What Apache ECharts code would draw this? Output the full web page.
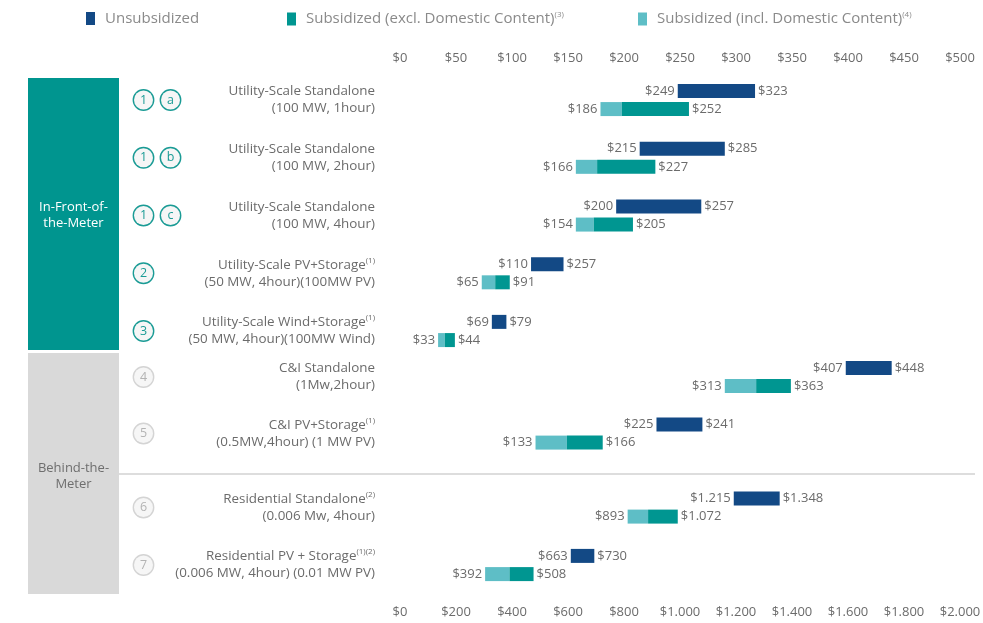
<!DOCTYPE html>
<html><head><meta charset="utf-8">
<script src="https://cdn.jsdelivr.net/npm/echarts@6/dist/echarts.min.js"></script>
<style>html,body{margin:0;padding:0;background:#fff}#c{width:983px;height:623px}</style>
</head><body><div id="c"></div>
<script>
const categories = [
  'Utility-Scale Standalone\n(100 MW, 1hour)',
  'Utility-Scale Standalone\n(100 MW, 2hour)',
  'Utility-Scale Standalone\n(100 MW, 4hour)',
  'Utility-Scale PV+Storage\n(50 MW, 4hour)(100MW PV)',
  'Utility-Scale Wind+Storage\n(50 MW, 4hour)(100MW Wind)',
  'C&I Standalone\n(1Mw,2hour)',
  'C&I PV+Storage\n(0.5MW,4hour) (1 MW PV)',
  'Residential Standalone\n(0.006 Mw, 4hour)',
  'Residential PV + Storage\n(0.006 MW, 4hour) (0.01 MW PV)'
];
const footnotes = ['', '', '', '(1)', '(1)', '', '(1)', '(2)', '(1)(2)'];
const tagNumbers = ['1', '1', '1', '2', '3', '4', '5', '6', '7'];
const tagLetters = ['a', 'b', 'c', '', '', '', '', '', ''];
const segments = ['In-Front-of-\nthe-Meter', 'Behind-the-\nMeter'];
const seriesNames = ['Unsubsidized', 'Subsidized (excl. Domestic Content)', 'Subsidized (incl. Domestic Content)'];
const seriesNotes = ['', '(3)', '(4)'];

// bar extents as drawn
const unsubLow   = [248, 214, 193, 117, 82, 398, 229, 1192, 610];
const unsubHigh  = [317, 290, 269, 146, 95, 439, 270, 1356, 694];
const subInclLow = [179, 157, 157, 73, 34, 290, 121, 813, 304];
const subExclLow = [198, 176, 173, 85, 40, 318, 149, 886, 391];
const subHigh    = [258, 228, 208, 98, 49, 349, 181, 992, 477];
// printed data labels
const unsubLowLabel  = [249, 215, 200, 110, 69, 407, 225, 1215, 663];
const unsubHighLabel = [323, 285, 257, 257, 79, 448, 241, 1348, 730];
const subLowLabel    = [186, 166, 154, 65, 33, 313, 133, 893, 392];
const subHighLabel   = [252, 227, 205, 91, 44, 363, 166, 1072, 508];

const topTicks = { min: 0, max: 500, interval: 50 };
const bottomTicks = { min: 0, max: 2000, interval: 200 };

const C_DARK = '#134985', C_TEAL = '#009691', C_LIGHT = '#5ebec6';
const TXT = '#6b6b6b';
const fmt = v => '$' + String(v).replace(/\B(?=(\d{3})+(?!\d))/g, '.');

const groups = [
  { from: 0, to: 5, top: 71.1, height: 288.75, ticks: topTicks, axis: 'top', active: true },
  { from: 5, to: 7, top: 348.75, height: 113, ticks: topTicks, axis: null, active: false },
  { from: 7, to: 9, top: 478.75, height: 115, ticks: bottomTicks, axis: 'bottom', active: false }
];

const grid = [], xAxis = [], yAxis = [], series = [];
groups.forEach((g, gi) => {
  grid.push({ left: 400, right: 23, top: g.top, height: g.height, outerBoundsMode: 'none', containLabel: false });
  xAxis.push({
    type: 'value', gridIndex: gi, min: g.ticks.min, max: g.ticks.max, interval: g.ticks.interval,
    show: !!g.axis, position: g.axis || 'bottom',
    axisLine: { show: false }, axisTick: { show: false }, splitLine: { show: false },
    axisLabel: { formatter: fmt, color: TXT, fontSize: 13, margin: g.axis === 'top' ? 6 : 12 }
  });
  const cats = categories.slice(g.from, g.to);
  const circ = g.active
    ? { borderColor: '#1a9b95', color: '#1a9b95' }
    : { borderColor: '#d4d4d4', color: '#b3b3b3' };
  yAxis.push({
    type: 'category', gridIndex: gi, data: cats, inverse: true, position: 'left',
    axisLine: { show: false }, axisTick: { show: false }, splitLine: { show: false },
    axisLabel: {
      margin: 25, align: 'right',
      formatter: (v, i) => {
        const k = g.from + i;
        const [l1, l2] = categories[k].split('\n');
        return '{n|' + l1 + '}' + (footnotes[k] ? '{s|' + footnotes[k] + '}' : '') + '\n{n|' + l2 + '}';
      },
      rich: {
        n: { fontSize: 13.4, color: TXT, lineHeight: 17 },
        s: { fontSize: 8, color: TXT, lineHeight: 17, verticalAlign: 'top' }
      }
    }
  });
  yAxis.push({
    type: 'category', gridIndex: gi, data: cats, inverse: true, position: 'left',
    axisLine: { show: false }, axisTick: { show: false }, splitLine: { show: false },
    axisLabel: {
      margin: 266, align: 'left',
      formatter: (v, i) => {
        const k = g.from + i;
        return '{c|' + tagNumbers[k] + '}' + (tagLetters[k] ? '{sp| }{c|' + tagLetters[k] + '}' : '');
      },
      rich: {
        c: Object.assign({ width: 19, height: 19, lineHeight: 19, borderRadius: 10.5, borderWidth: 1.4,
          backgroundColor: '#f6f6f6', align: 'center', fontSize: 12.5 }, circ),
        sp: { width: 8 }
      }
    }
  });
  const sl = a => a.slice(g.from, g.to);
  const lab = (arr, pos) => ({
    show: true, position: pos, distance: 3, color: TXT, fontSize: 13,
    formatter: p => fmt(arr[g.from + p.dataIndex])
  });
  const common = { type: 'bar', xAxisIndex: gi, yAxisIndex: gi * 2, barWidth: 14, barGap: '30%', silent: true };
  series.push(Object.assign({}, common, {
    name: '_baseU', stack: 'u' + gi, itemStyle: { color: 'transparent' },
    data: sl(unsubLow), label: lab(unsubLowLabel, 'insideRight')
  }));
  series.push(Object.assign({}, common, {
    name: seriesNames[0], stack: 'u' + gi, itemStyle: { color: C_DARK },
    data: sl(unsubHigh).map((v, i) => v - unsubLow[g.from + i]), label: lab(unsubHighLabel, 'right')
  }));
  series.push(Object.assign({}, common, {
    name: '_baseS', stack: 's' + gi, itemStyle: { color: 'transparent' },
    data: sl(subInclLow), label: lab(subLowLabel, 'insideRight')
  }));
  series.push(Object.assign({}, common, {
    name: seriesNames[2], stack: 's' + gi, itemStyle: { color: C_LIGHT },
    data: sl(subExclLow).map((v, i) => v - subInclLow[g.from + i])
  }));
  series.push(Object.assign({}, common, {
    name: seriesNames[1], stack: 's' + gi, itemStyle: { color: C_TEAL },
    data: sl(subHigh).map((v, i) => v - subExclLow[g.from + i]), label: lab(subHighLabel, 'right')
  }));
});

const legendLeft = [86, 287, 638];
const legend = seriesNames.map((n, i) => ({
  data: [n], left: legendLeft[i], top: 11, padding: 0, icon: 'rect', itemWidth: 9, itemHeight: 13,
  selectedMode: false,
  formatter: name => '{t|' + name + '}' + (seriesNotes[i] ? '{s|' + seriesNotes[i] + '}' : ''),
  textStyle: {
    padding: [0, 0, 0, 5],
    rich: {
      t: { fontSize: 15, color: '#8a8a8a' },
      s: { fontSize: 8, color: '#8a8a8a', verticalAlign: 'top', lineHeight: 16 }
    }
  }
}));

const chart = echarts.init(document.getElementById('c'), null, { renderer: 'canvas' });
chart.setOption({
  animation: false,
  backgroundColor: '#ffffff',
  textStyle: { fontFamily: 'Open Sans' },
  legend, grid, xAxis, yAxis, series,
  graphic: [
    { type: 'rect', shape: { x: 28, y: 78, width: 91, height: 272 }, style: { fill: '#00958f' }, silent: true },
    { type: 'rect', shape: { x: 28, y: 353, width: 91, height: 241 }, style: { fill: '#d9d9d9' }, silent: true },
    { type: 'text', x: 73.5, y: 215.5, silent: true,
      style: { text: segments[0], fill: '#ffffff', fontSize: 13, fontFamily: 'Open Sans', align: 'center', verticalAlign: 'middle', lineHeight: 16 } },
    { type: 'text', x: 73.5, y: 476.5, silent: true,
      style: { text: segments[1], fill: '#6e6e6e', fontSize: 13, fontFamily: 'Open Sans', align: 'center', verticalAlign: 'middle', lineHeight: 16 } },
    { type: 'line', shape: { x1: 119, y1: 474, x2: 975, y2: 474 }, style: { stroke: '#dddddd', lineWidth: 2 }, silent: true }
  ]
});
</script>
</body></html>
